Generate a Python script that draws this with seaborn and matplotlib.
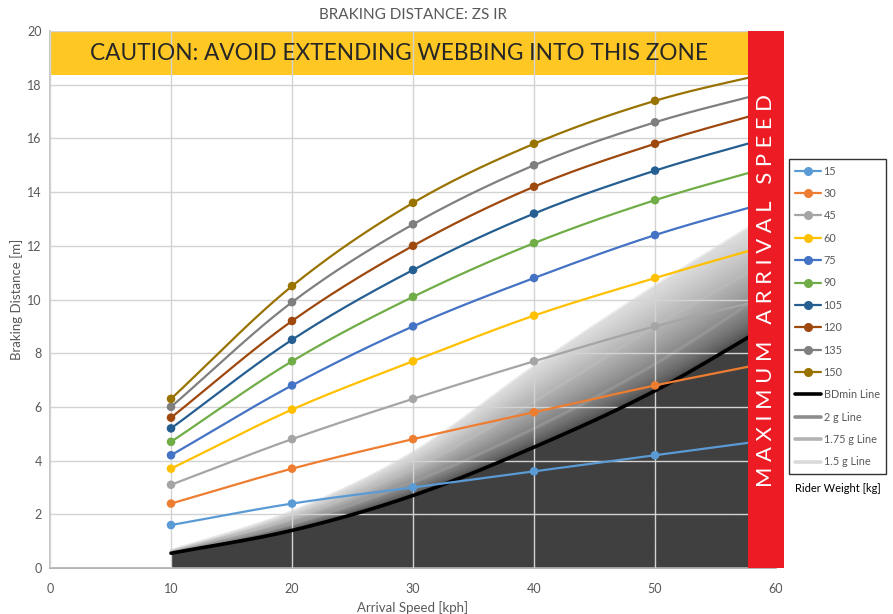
import numpy as np
import seaborn as sns
from matplotlib import pyplot as plt
from matplotlib import font_manager
from matplotlib.lines import Line2D
from matplotlib.patches import Rectangle

# arrival speeds [kph]; the last column sits under the red band
SPEEDS = [10, 20, 30, 40, 50, 60]

WEIGHTS = ["15", "30", "45", "60", "75", "90", "105", "120", "135", "150"]
DIST_15 = [1.6, 2.4, 3.0, 3.6, 4.2, 4.8]
DIST_30 = [2.4, 3.7, 4.8, 5.8, 6.8, 7.7]
DIST_45 = [3.1, 4.8, 6.3, 7.7, 9.0, 10.1]
DIST_60 = [3.7, 5.9, 7.7, 9.4, 10.8, 12.1]
DIST_75 = [4.2, 6.8, 9.0, 10.8, 12.4, 13.7]
DIST_90 = [4.7, 7.7, 10.1, 12.1, 13.7, 15.0]
DIST_105 = [5.2, 8.5, 11.1, 13.2, 14.8, 16.1]
DIST_120 = [5.6, 9.2, 12.0, 14.2, 15.8, 17.1]
DIST_135 = [6.0, 9.9, 12.8, 15.0, 16.6, 17.8]
DIST_150 = [6.3, 10.5, 13.6, 15.8, 17.4, 18.5]
COLORS = ["#5b9bd5", "#ed7d31", "#a5a5a5", "#ffc000", "#4472c4",
          "#70ad47", "#255e91", "#9e480e", "#7f7f7f", "#997300"]

BDMIN = [0.55, 1.4, 2.7, 4.5, 6.6, 9.2]
G2_LINE = [0.58, 1.65, 3.2, 5.2, 7.6, 10.5]
G175_LINE = [0.62, 1.85, 3.7, 6.2, 9.0, 11.6]
G15_LINE = [0.65, 2.1, 4.3, 7.5, 10.5, 13.3]

MAX_SPEED = 57.7
CAUTION_FROM = 18.35

GREY_TXT = "#595959"


def pick_font(names):
    have = {f.name for f in font_manager.fontManager.ttflist}
    for n in names:
        if n in have:
            return n
    return "DejaVu Sans"


def smooth(xs, ys, n=40):
    # catmull-rom, close to excel's "smoothed line"
    x = np.asarray(xs, float)
    y = np.asarray(ys, float)
    px = np.r_[2 * x[0] - x[1], x, 2 * x[-1] - x[-2]]
    py = np.r_[2 * y[0] - y[1], y, 2 * y[-1] - y[-2]]
    out_x, out_y = [], []
    t = np.linspace(0, 1, n, endpoint=False)
    for i in range(1, len(px) - 2):
        for arr, out in ((px, out_x), (py, out_y)):
            p0, p1, p2, p3 = arr[i - 1], arr[i], arr[i + 1], arr[i + 2]
            out.extend(0.5 * (2 * p1 + (-p0 + p2) * t
                              + (2 * p0 - 5 * p1 + 4 * p2 - p3) * t ** 2
                              + (-p0 + 3 * p1 - 3 * p2 + p3) * t ** 3))
    out_x.append(x[-1])
    out_y.append(y[-1])
    return np.array(out_x), np.array(out_y)


sns.set_theme(style="white")
font = pick_font(["Liberation Sans Narrow", "Lato", "Open Sans", "DejaVu Sans"])
plt.rcParams["font.family"] = [font, "DejaVu Sans"]

fig = plt.figure(figsize=(8.93, 6.14), dpi=100)
ax = fig.add_axes([0.056, 0.0749, 0.813, 0.8746])

# --- danger zone under BDmin with grey gradient up to 1.5 g line
bx, by = smooth(SPEEDS, BDMIN)
tx, ty = smooth(SPEEDS, G15_LINE)
gx = np.linspace(10, 60, 700)
gy = np.linspace(0, 14, 500)
X, Y = np.meshgrid(gx, gy)
b = np.interp(X, bx, by)
top = np.interp(X, tx, ty)
t = (Y - b) / (top - b)
dark = np.array([64, 64, 64]) / 255
light = np.array([222, 222, 222]) / 255
tt = np.clip(t, 0, 1) ** 0.6
img = np.zeros(X.shape + (4,))
for k in range(3):
    img[..., k] = dark[k] + (light[k] - dark[k]) * tt
img[..., 3] = np.where(t <= 1, 1.0, 0.0)
img[t <= 0, :3] = dark
ax.imshow(img, extent=(10, 60, 0, 14), origin="lower", aspect="auto",
          interpolation="bilinear", zorder=1)

# caution band
ax.add_patch(Rectangle((0, CAUTION_FROM), MAX_SPEED, 20 - CAUTION_FROM,
                       facecolor="#fec312", edgecolor="none", alpha=0.93, zorder=2.5))

# g lines and BDmin
for vals, col in ((G15_LINE, "#d9d9d9"), (G175_LINE, "#bdbdbd"), (G2_LINE, "#a0a0a0")):
    sx, sy = smooth(SPEEDS, vals)
    sns.lineplot(x=sx, y=sy, color=col, lw=2.2, alpha=0.55, ax=ax, zorder=2,
                 sort=False, estimator=None)
sns.lineplot(x=bx, y=by, color="black", lw=2.6, ax=ax, zorder=3,
             sort=False, estimator=None)

# rider weight series
series = [DIST_15, DIST_30, DIST_45, DIST_60, DIST_75,
          DIST_90, DIST_105, DIST_120, DIST_135, DIST_150]
for vals, col in zip(series, COLORS):
    sx, sy = smooth(SPEEDS, vals)
    sns.lineplot(x=sx, y=sy, color=col, lw=1.6, ax=ax, zorder=4,
                 sort=False, estimator=None)
    sns.scatterplot(x=SPEEDS, y=vals, color=col, s=38, edgecolor="none",
                    ax=ax, zorder=5)

# max arrival speed band
ax.add_patch(Rectangle((MAX_SPEED, 0), 60.7 - MAX_SPEED, 20, facecolor="#ed1c24",
                       edgecolor="none", zorder=6, clip_on=False))
ax.text((MAX_SPEED + 60.7) / 2, 10.35, "M A X I M U M   A R R I V A L   S P E E D",
        rotation=90, ha="center", va="center", color="white", fontsize=15.8,
        zorder=7)
ax.text(MAX_SPEED / 2, 19.18, "CAUTION: AVOID EXTENDING WEBBING INTO THIS ZONE",
        ha="center", va="center", color="#262626", fontsize=16.3, zorder=7)

ax.set_xlim(0, 60)
ax.set_ylim(0, 20)
ax.set_xticks(range(0, 61, 10))
ax.set_yticks(range(0, 21, 2))
ax.grid(True, color="#d3d3d3", lw=1, zorder=1.5)
ax.set_axisbelow(False)
for ln in ax.get_xgridlines() + ax.get_ygridlines():
    ln.set_zorder(1.5)
for side in ("top", "right"):
    ax.spines[side].set_visible(False)
ax.spines["left"].set_color("#bfbfbf")
ax.spines["bottom"].set_color("#a6a6a6")
ax.spines["bottom"].set_linewidth(1.2)
ax.tick_params(colors=GREY_TXT, labelsize=9, length=0)
ax.tick_params(axis="x", pad=11)
ax.tick_params(axis="y", pad=6)
ax.set_xlabel("Arrival Speed [kph]", color=GREY_TXT, fontsize=9.5, labelpad=4)
ax.set_ylabel("Braking Distance [m]", color=GREY_TXT, fontsize=9.5, labelpad=3)
ax.set_title("BRAKING DISTANCE: ZS IR", color=GREY_TXT, fontsize=11, pad=9)

handles = [Line2D([], [], color=c, lw=1.6, marker="o", markersize=5.5) for c in COLORS]
handles += [Line2D([], [], color=c, lw=2.6) for c in ("black", "#8c8c8c", "#b3b3b3", "#d9d9d9")]
labels = WEIGHTS + ["BDmin Line", "2 g Line", "1.75 g Line", "1.5 g Line"]
leg = fig.legend(handles, labels, loc="upper left", bbox_to_anchor=(0.8835, 0.741),
                 fontsize=7.8, frameon=True, fancybox=False, edgecolor="black",
                 labelspacing=1.05, handlelength=2.4, handletextpad=0.2,
                 borderpad=0.6, borderaxespad=0)
leg.get_frame().set_linewidth(1.0)
for txt in leg.get_texts():
    txt.set_color(GREY_TXT)
fig.text(0.938, 0.205, "Rider Weight [kg]", ha="center", va="center",
         fontsize=8, color="black")

fig.savefig("out.png", dpi=100)
